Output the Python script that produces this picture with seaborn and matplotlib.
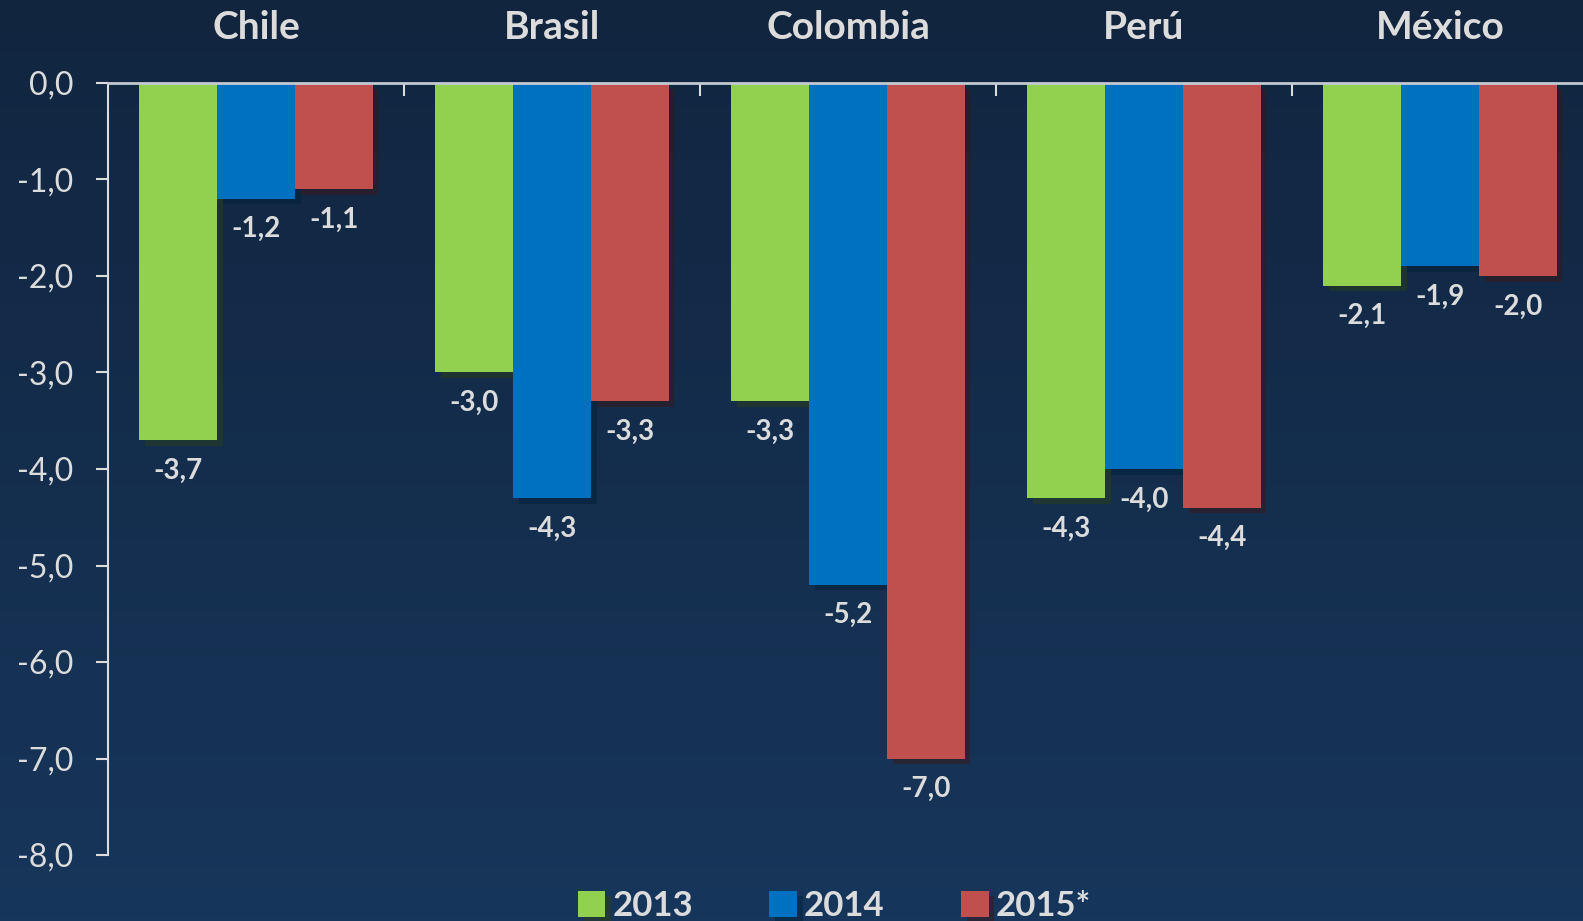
import numpy as np
import pandas as pd
import seaborn as sns
import matplotlib.pyplot as plt
import matplotlib.patheffects as pe
from matplotlib.colors import LinearSegmentedColormap
from matplotlib.ticker import FuncFormatter

# data
countries = ["Chile", "Brasil", "Colombia", "Perú", "México"]
years = ["2013", "2014", "2015*"]
v2013 = [-3.7, -3.0, -3.3, -4.3, -2.1]
v2014 = [-1.2, -4.3, -5.2, -4.0, -1.9]
v2015 = [-1.1, -3.3, -7.0, -4.4, -2.0]
yticks = [0, -1, -2, -3, -4, -5, -6, -7, -8]

bar_colors = ["#92D050", "#0070C0", "#C0504D"]
text_col = "#dcdcdc"

df = pd.DataFrame({
    "pais": countries * 3,
    "anio": [y for y in years for _ in countries],
    "valor": v2013 + v2014 + v2015,
})

sns.set_theme(style="white")
plt.rcParams["font.family"] = ["Lato", "DejaVu Sans"]

fig = plt.figure(figsize=(15.83, 9.21), dpi=100)

# gradient background
bg = fig.add_axes([0, 0, 1, 1], zorder=-1)
cmap = LinearSegmentedColormap.from_list("bg", ["#11253f", "#17365b"])
grad = np.linspace(0, 1, 256).reshape(-1, 1)
bg.imshow(grad, aspect="auto", cmap=cmap, extent=[0, 1, 0, 1], origin="upper")
bg.axis("off")

ax = fig.add_axes([108 / 1583, 1 - 855 / 921, 1480 / 1583, 772 / 921])
ax.set_facecolor("none")

sns.barplot(data=df, x="pais", y="valor", hue="anio", order=countries,
            hue_order=years, palette=bar_colors, width=0.79, saturation=1,
            edgecolor="none", ax=ax, legend=True)

for bar in ax.patches:
    bar.set_path_effects([pe.SimplePatchShadow(offset=(4, -4), alpha=0.5),
                          pe.Normal()])

# value labels under each bar
for cont in ax.containers:
    for bar in cont:
        h = bar.get_height()
        ax.annotate(f"{h:.1f}".replace(".", ","),
                    (bar.get_x() + bar.get_width() / 2, h),
                    xytext=(0, -22), textcoords="offset points",
                    ha="center", va="center", fontsize=20,
                    fontweight="bold", color=text_col)

ax.set_ylim(-8, 0)
ax.set_xlim(-0.5, 4.5)
ax.set_yticks(yticks)
ax.yaxis.set_major_formatter(FuncFormatter(lambda v, p: f"{v:.1f}".replace(".", ",")))
ax.tick_params(axis="y", left=True, direction="out", length=9, width=1.5,
               color=text_col, labelcolor=text_col, labelsize=23, pad=16)

ax.xaxis.set_ticks_position("top")
ax.set_xticks([0.5, 1.5, 2.5, 3.5], labels=[])
ax.tick_params(axis="x", top=True, bottom=False, direction="in", length=9,
               width=1.5, color=text_col)
ax.set_xlabel("")
ax.set_ylabel("")

for i, c in enumerate(countries):
    ax.text(i, 0.57, c, ha="center", va="center", fontsize=28,
            fontweight="bold", color=text_col, clip_on=False)

for s in ["right", "bottom"]:
    ax.spines[s].set_visible(False)
ax.spines["left"].set_color(text_col)
ax.spines["left"].set_linewidth(1.5)
ax.spines["top"].set_color("#c3c9d1")
ax.spines["top"].set_linewidth(2)

handles, labels = ax.get_legend_handles_labels()
ax.get_legend().remove()
leg = fig.legend(handles, labels, loc="center", bbox_to_anchor=(0.527, 1 - 906 / 921),
                 ncol=3, frameon=False, handlelength=0.8,
                 handleheight=0.8, handletextpad=0.2, columnspacing=2.2,
                 prop={"weight": "bold", "size": 25})
for t in leg.get_texts():
    t.set_color(text_col)

fig.savefig("out.png", dpi=100)
